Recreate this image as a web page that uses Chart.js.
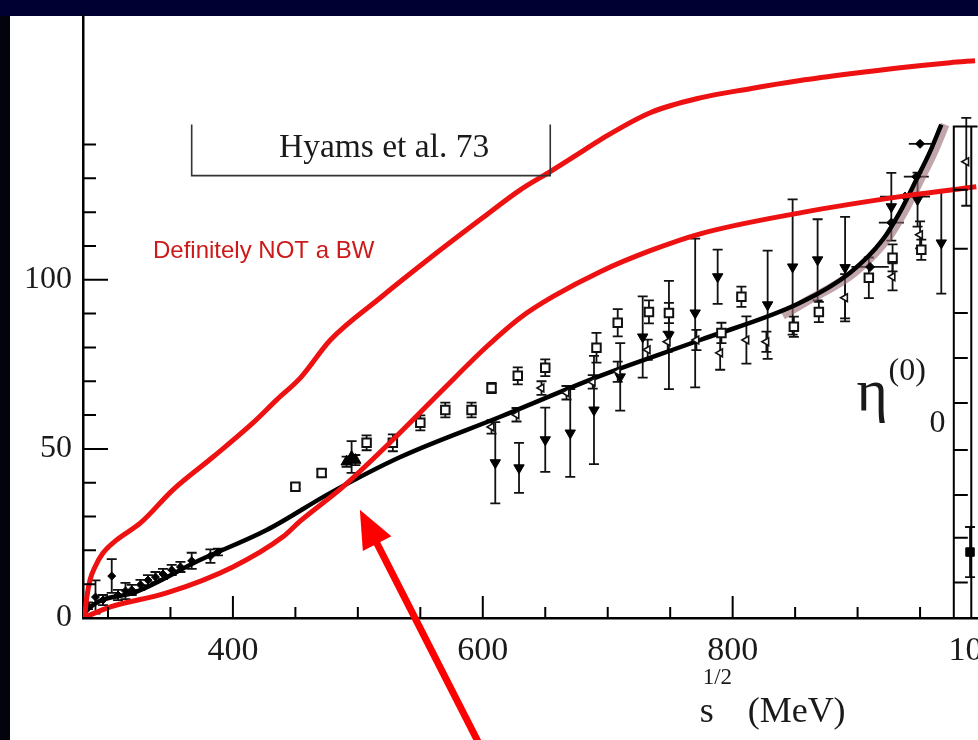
<!DOCTYPE html>
<html>
<head>
<meta charset="utf-8">
<script src="https://cdn.jsdelivr.net/npm/chart.js@4.4.1/dist/chart.umd.min.js"></script>
<style>
  html, body { margin: 0; padding: 0; width: 978px; height: 740px; overflow: hidden; background: #000033; }
  .leftbar { position: absolute; left: 0; top: 16px; width: 10px; height: 724px; background: #03030c; }
  .slide { position: absolute; left: 10px; top: 16px; width: 968px; height: 724px; background: #fff; }
  #chart { position: absolute; left: 0; top: 0; }
</style>
</head>
<body>
<div class="leftbar"></div>
<div class="slide"></div>
<canvas id="chart" width="1040" height="740"></canvas>
<script>
// axis ticks
const xTickValues = [300, 350, 400, 450, 500, 550, 600, 650, 700, 750, 800, 850, 900, 950, 1000];
const xLabelValues = [400, 600, 800, 1000];
const yTickValues = [0, 10, 20, 30, 40, 50, 60, 70, 80, 90, 100, 110, 120, 130, 140];
const yLabelValues = [0, 50, 100];

// black fit curve and its error band
const fitX = [280, 282, 320, 374, 427, 478, 534, 614, 694, 774, 854, 894, 920, 934, 947, 958, 967];
const fitY = [0, 1.8, 7.4, 17.2, 26.0, 37.0, 47.6, 59.5, 71.6, 82.2, 93.2, 102.1, 111.8, 120.1, 129.6, 137.9, 145.9];
const bandX = [840, 857, 897, 923, 937, 950, 961, 970];
const bandY = [89.5, 93.2, 102.1, 111.8, 120.1, 129.6, 137.9, 145.9];

// red curves drawn over the figure
const redUpX = [280, 281.6, 283, 285.6, 289.6, 296, 307, 326, 352, 384, 416, 435, 454, 478, 518, 558, 598, 630, 654, 678, 694, 734, 774, 814, 854, 894, 934, 974, 994];
const redUpY = [0, 1.5, 6.0, 11.2, 15.1, 19.2, 23.1, 28.1, 37.9, 47.6, 57.7, 64.5, 71.0, 82.2, 94.7, 106.5, 117.8, 126.6, 132.0, 137.6, 141.4, 149.4, 153.8, 156.5, 158.9, 160.9, 162.7, 164.2, 164.8];
const redLoX = [280, 302, 347, 400, 440, 454, 488, 528, 568, 603, 630, 656, 694, 734, 774, 854, 934, 995];
const redLoY = [0, 3.3, 7.4, 15.1, 24.0, 28.7, 38.8, 52.7, 67.5, 80.2, 88.8, 95.0, 102.4, 108.6, 113.6, 119.8, 124.6, 127.5];

// Ke4 points near threshold
const ke4X = [284, 290, 296, 303, 308, 314, 319, 326, 332, 338, 344, 351, 358, 367, 382, 388];
const ke4Y = [3.6, 6.2, 5.3, 12.4, 6.8, 8.0, 8.3, 9.8, 11.2, 12.1, 13.0, 14.2, 15.1, 16.9, 18.3, 19.5];
const ke4Err = [1, 4.9, 1.5, 5, 1.5, 2.4, 1.5, 1.5, 1.5, 1.5, 1.5, 1.5, 1.5, 2.4, 2, 1];

// open squares
const sqX = [450, 471, 507, 528, 550, 570, 591, 607, 628, 650, 691, 708, 733, 749, 791, 807, 849, 869, 909, 928, 951];
const sqY = [38.8, 42.9, 51.8, 51.8, 57.7, 61.5, 61.5, 68.0, 71.6, 74.0, 79.9, 87.3, 90.5, 90.2, 84.3, 95.0, 86.1, 90.5, 100.6, 106.5, 108.9];
const sqErr = [0.8, 1, 2.2, 2.5, 2.2, 2.2, 2.2, 1.5, 2.5, 2.5, 4.4, 4, 3.4, 3, 3, 3, 3, 3, 6, 4, 3];

// filled down triangles
const dnX = [610, 629, 650, 670, 689, 710, 728, 749, 770, 788, 828, 848, 868, 890, 927, 948, 967];
const dnY = [45.9, 44.4, 52.7, 54.7, 61.5, 71.3, 83.1, 83.7, 90.2, 100.9, 92.6, 103.8, 105.9, 103.6, 121.6, 123.7, 110.9];
const dnErr = [12, 7.4, 9.5, 13, 16, 10, 12, 16, 22, 8, 16, 20, 12, 15, 10, 8, 15];

// open left triangles
const ltX = [607, 627, 647, 667, 688, 708, 732, 748, 771, 790, 811, 827, 890, 928, 950, 987];
const ltY = [56.5, 60.1, 68.0, 66.6, 69.8, 72.8, 79.3, 81.7, 82.2, 78.4, 82.2, 81.7, 94.7, 100.9, 113.3, 134.9];
const ltErr = [2, 2, 2, 2, 2, 3, 3, 3, 3, 5, 7, 3, 7, 4, 4, 13];

// filled up triangles
const upX = [491, 495, 498];
const upY = [46.2, 47.6, 46.7];
const upErr = [1.5, 4.7, 1.5];

// points with energy bars near the resonance
const hbX = [910, 927, 938, 947, 950];
const hbY = [103.8, 116.9, 124.6, 130.5, 140.2];
const hbXErr = [15, 10, 20, 10, 9];

// inelasticity panel point
const etaX = [990];
const etaY = [19.5];
const etaErr = [7.4];

// annotation anchors (data units)
const hyamsBox = { left: 367, right: 654, top: 145.9, bottom: 130.8 };
const etaPanel = { left: 977, right: 991, top: 145.3 };
const etaPanelTicks = [126.6, 109.2, 90.2, 76.9, 63.6, 49.7, 36.4, 23.7, 10.5];
const arrowTip = [501.6, 32.0];
const arrowTail = [597.6, -37.6];

const toPts = (xs, ys) => xs.map((x, i) => ({ x: x, y: ys[i] }));
const serif = '"Liberation Serif", "Times New Roman", serif';

const errorBarPlugin = {
    id: 'errorBars',
    beforeDatasetsDraw(chart) {
        const ctx = chart.ctx, sx = chart.scales.x, sy = chart.scales.y, a = chart.chartArea;
        ctx.save();
        ctx.beginPath();
        ctx.rect(a.left, a.top, a.right - a.left, a.bottom - a.top);
        ctx.clip();
        ctx.strokeStyle = '#111';
        ctx.lineWidth = 1.8;
        chart.data.datasets.forEach(ds => {
            if (!ds.yErr && !ds.xErr) return;
            ds.data.forEach((p, i) => {
                const px = sx.getPixelForValue(p.x), py = sy.getPixelForValue(p.y);
                ctx.beginPath();
                if (ds.yErr && ds.yErr[i]) {
                    const t = sy.getPixelForValue(p.y + ds.yErr[i]), b = sy.getPixelForValue(p.y - ds.yErr[i]);
                    ctx.moveTo(px, t); ctx.lineTo(px, b);
                    ctx.moveTo(px - 5, t); ctx.lineTo(px + 5, t);
                    ctx.moveTo(px - 5, b); ctx.lineTo(px + 5, b);
                }
                if (ds.xErr && ds.xErr[i]) {
                    const l = sx.getPixelForValue(p.x - ds.xErr[i]), r = sx.getPixelForValue(p.x + ds.xErr[i]);
                    ctx.moveTo(l, py); ctx.lineTo(r, py);
                }
                ctx.stroke();
            });
        });
        ctx.restore();
    }
};

const decorPlugin = {
    id: 'decor',
    afterDraw(chart) {
        const ctx = chart.ctx, sx = chart.scales.x, sy = chart.scales.y, a = chart.chartArea;
        const X = v => sx.getPixelForValue(v), Y = v => sy.getPixelForValue(v);
        ctx.save();

        // inward ticks
        ctx.strokeStyle = '#000';
        ctx.lineWidth = 2;
        ctx.beginPath();
        yTickValues.forEach(v => {
            const len = v % 50 === 0 ? 25 : 13;
            ctx.moveTo(a.left, Y(v)); ctx.lineTo(a.left + len, Y(v));
        });
        xTickValues.forEach(v => {
            const len = v % 200 === 0 ? 22 : 11;
            ctx.moveTo(X(v), a.bottom); ctx.lineTo(X(v), a.bottom - len);
        });
        ctx.stroke();

        // Hyams bracket and label
        ctx.strokeStyle = '#333';
        ctx.lineWidth = 1.6;
        ctx.beginPath();
        ctx.moveTo(X(hyamsBox.left), Y(hyamsBox.top));
        ctx.lineTo(X(hyamsBox.left), Y(hyamsBox.bottom));
        ctx.lineTo(X(hyamsBox.right), Y(hyamsBox.bottom));
        ctx.lineTo(X(hyamsBox.right), Y(hyamsBox.top));
        ctx.stroke();
        ctx.fillStyle = '#1a1a1a';
        ctx.font = '33.5px ' + serif;
        ctx.textAlign = 'center';
        ctx.textBaseline = 'alphabetic';
        ctx.fillText('Hyams et al. 73', X(521), Y(136.4));

        // red remark
        ctx.textAlign = 'left';
        ctx.fillStyle = '#cc1a1a';
        ctx.font = '24px "Liberation Sans", Arial, sans-serif';
        ctx.fillText('Definitely NOT a BW', X(336), Y(106.5));

        // inelasticity panel frame
        ctx.strokeStyle = '#000';
        ctx.lineWidth = 2;
        ctx.beginPath();
        ctx.moveTo(X(etaPanel.left), a.bottom); ctx.lineTo(X(etaPanel.left), Y(etaPanel.top));
        ctx.lineTo(X(etaPanel.right + 5), Y(etaPanel.top));
        ctx.moveTo(X(etaPanel.right), Y(etaPanel.top)); ctx.lineTo(X(etaPanel.right), a.bottom);
        etaPanelTicks.forEach(v => {
            ctx.moveTo(X(etaPanel.left), Y(v)); ctx.lineTo(X(etaPanel.left) + 14, Y(v));
        });
        ctx.stroke();

        // eta label
        ctx.fillStyle = '#1a1a1a';
        ctx.font = '60px ' + serif;
        ctx.fillText('\u03B7', X(899.2), Y(61.5));
        ctx.font = '32px ' + serif;
        ctx.fillText('(0)', X(924.8), Y(70.4));
        ctx.fillText('0', X(957.6), Y(55.0));

        // x axis title
        ctx.font = '36px ' + serif;
        ctx.fillText('s', X(773.6), Y(-30.8));
        ctx.fillText('(MeV)', X(812), Y(-30.8));
        ctx.font = '23px ' + serif;
        ctx.fillText('1/2', X(776), Y(-19.5));

        // red arrow
        const tx = X(arrowTip[0]), ty = Y(arrowTip[1]);
        const bx = X(arrowTail[0]), by = Y(arrowTail[1]);
        const ang = Math.atan2(ty - by, tx - bx);
        const headLen = 38, headHalf = 16;
        const hx = tx - Math.cos(ang) * headLen, hy = ty - Math.sin(ang) * headLen;
        ctx.strokeStyle = '#ff0000';
        ctx.fillStyle = '#ff0000';
        ctx.lineWidth = 7;
        ctx.beginPath();
        ctx.moveTo(bx, by); ctx.lineTo(hx + Math.cos(ang) * 4, hy + Math.sin(ang) * 4);
        ctx.stroke();
        ctx.beginPath();
        ctx.moveTo(tx, ty);
        ctx.lineTo(hx + Math.sin(ang) * headHalf, hy - Math.cos(ang) * headHalf);
        ctx.lineTo(hx - Math.sin(ang) * headHalf, hy + Math.cos(ang) * headHalf);
        ctx.closePath();
        ctx.fill();

        ctx.restore();
    }
};

const lineDs = (data, color, width) => ({
    data: data, showLine: true, borderColor: color, borderWidth: width,
    pointRadius: 0, fill: false, cubicInterpolationMode: 'monotone'
});

new Chart(document.getElementById('chart'), {
    type: 'scatter',
    data: {
        datasets: [
            lineDs(toPts(redUpX, redUpY), '#ee1111', 5),
            lineDs(toPts(redLoX, redLoY), '#ee1111', 5),
            { data: toPts(sqX, sqY), yErr: sqErr, pointStyle: 'rect', pointRadius: 6,
              backgroundColor: '#fff', borderColor: '#111', borderWidth: 2 },
            { data: toPts(ltX, ltY), yErr: ltErr, pointStyle: 'triangle', rotation: 270, pointRadius: 4.5,
              backgroundColor: '#fff', borderColor: '#111', borderWidth: 1.6 },
            { data: toPts(dnX, dnY), yErr: dnErr, pointStyle: 'triangle', rotation: 180, pointRadius: 6,
              backgroundColor: '#000', borderColor: '#000', borderWidth: 1 },
            { data: toPts(upX, upY), yErr: upErr, pointStyle: 'triangle', pointRadius: 6.5,
              backgroundColor: '#000', borderColor: '#000', borderWidth: 1 },
            { data: toPts(hbX, hbY), xErr: hbXErr, pointStyle: 'rectRot', pointRadius: 4.5,
              backgroundColor: '#000', borderColor: '#000', borderWidth: 1 },
            { data: toPts(ke4X, ke4Y), yErr: ke4Err, pointStyle: 'rectRot', pointRadius: 4,
              backgroundColor: '#000', borderColor: '#000', borderWidth: 1 },
            { data: toPts(etaX, etaY), yErr: etaErr, pointStyle: 'rect', pointRadius: 6,
              backgroundColor: '#000', borderColor: '#000', borderWidth: 1 },
            lineDs(toPts(fitX, fitY), '#000', 4.5),
            lineDs(toPts(bandX, bandY), 'rgba(150, 105, 115, 0.6)', 9)
        ]
    },
    options: {
        responsive: false,
        animation: false,
        devicePixelRatio: 1,
        events: [],
        layout: { padding: { top: 16, left: 0, right: 0, bottom: 0 } },
        plugins: { legend: { display: false }, tooltip: { enabled: false } },
        scales: {
            x: {
                type: 'linear', min: 280, max: 1039.6,
                afterBuildTicks: axis => { axis.ticks = xTickValues.map(v => ({ value: v })); },
                afterFit: s => { s.height = 122; s.paddingLeft = 0; s.paddingRight = 0; },
                grid: { display: false, drawTicks: false },
                border: { display: true, color: '#000', width: 2.5 },
                ticks: {
                    autoSkip: false, maxRotation: 0, padding: 13, color: '#1a1a1a',
                    font: { family: serif, size: 34 },
                    callback: v => xLabelValues.includes(v) ? String(v) : ''
                }
            },
            y: {
                type: 'linear', min: 0, max: 178,
                afterBuildTicks: axis => { axis.ticks = yTickValues.map(v => ({ value: v })); },
                afterFit: s => { s.width = 83; s.paddingTop = 0; s.paddingBottom = 0; },
                grid: { display: false, drawTicks: false },
                border: { display: true, color: '#000', width: 2.5 },
                ticks: {
                    autoSkip: false, padding: 11, color: '#1a1a1a',
                    font: { family: serif, size: 32 },
                    callback: v => yLabelValues.includes(v) ? String(v) : ''
                }
            }
        }
    },
    plugins: [errorBarPlugin, decorPlugin]
});
</script>
</body>
</html>
